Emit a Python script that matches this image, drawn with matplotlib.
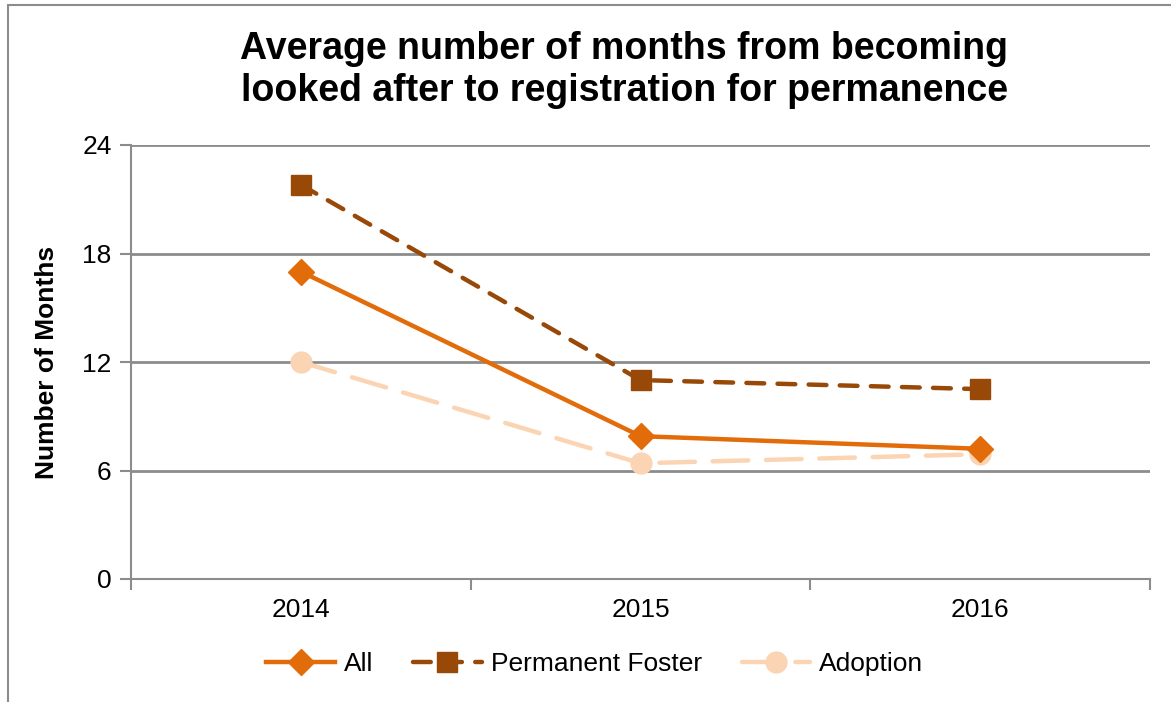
import matplotlib.pyplot as plt
from matplotlib.patches import Rectangle
from matplotlib.ticker import FixedLocator

plt.rcParams['font.family'] = ['Liberation Sans', 'DejaVu Sans']

# Data
years = ['2014', '2015', '2016']
all_vals = [17.0, 7.9, 7.2]
foster_vals = [21.8, 11.0, 10.5]
adoption_vals = [12.0, 6.4, 6.9]

fig = plt.figure(figsize=(11.71, 7.02), dpi=100)
ax = fig.add_axes([131 / 1171, 1 - 579 / 702, (1150 - 131) / 1171, (579 - 145) / 702])

# outer chart border (only top/left visible in the crop)
fig.patches.append(Rectangle((8 / 1171, -0.2), 1.2, 1.2 - 5 / 702,
                             transform=fig.transFigure, fill=False,
                             edgecolor='#8c8c8c', linewidth=1.5, zorder=0))

x = list(range(len(years)))
ax.plot(x, all_vals, color='#E36C0A', lw=3.2, marker='D', ms=13, label='All', zorder=4)
ax.plot(x, foster_vals, color='#984807', lw=3.2, ls=(0, (4, 3)), dash_capstyle='round',
        marker='s', ms=14, label='Permanent Foster', zorder=3)
ax.plot(x, adoption_vals, color='#FBD4B4', lw=3.2, ls=(0, (8, 4)), dash_capstyle='round',
        marker='o', ms=15, label='Adoption', zorder=2)

ax.set_xlim(-0.5, 2.5)
ax.set_ylim(0, 24)
ax.set_yticks([0, 6, 12, 18, 24])
ax.set_xticks(x)
ax.set_xticklabels(years)
ax.xaxis.set_minor_locator(FixedLocator([-0.5, 0.5, 1.5, 2.5]))
ax.tick_params(axis='x', which='major', length=0, labelsize=19, pad=14)
ax.tick_params(axis='x', which='minor', length=8, width=1.5, color='#8c8c8c', direction='out')
ax.tick_params(axis='y', length=8, width=1.5, color='#8c8c8c', labelsize=19, pad=6)

ax.grid(axis='y', color='#8c8c8c', lw=2)
ax.set_axisbelow(True)
for s in ['top', 'right']:
    ax.spines[s].set_visible(False)
for s in ['left', 'bottom']:
    ax.spines[s].set_color('#8c8c8c')
    ax.spines[s].set_linewidth(1.5)

ax.set_ylabel('Number of Months', fontsize=19, fontweight='bold')
ax.yaxis.set_label_coords(-72 / 1019, 0.5)

fig.text(0.533, 1 - 70 / 702, 'Average number of months from becoming\nlooked after to registration for permanence',
         ha='center', va='center', fontsize=27, fontweight='bold', linespacing=1.22)

fig.legend(loc='center', bbox_to_anchor=(0.508, 1 - 664 / 702), ncol=3, frameon=False,
           fontsize=19, handlelength=2.6, columnspacing=1.5, handletextpad=0.35)

fig.savefig('out.png', dpi=100)
